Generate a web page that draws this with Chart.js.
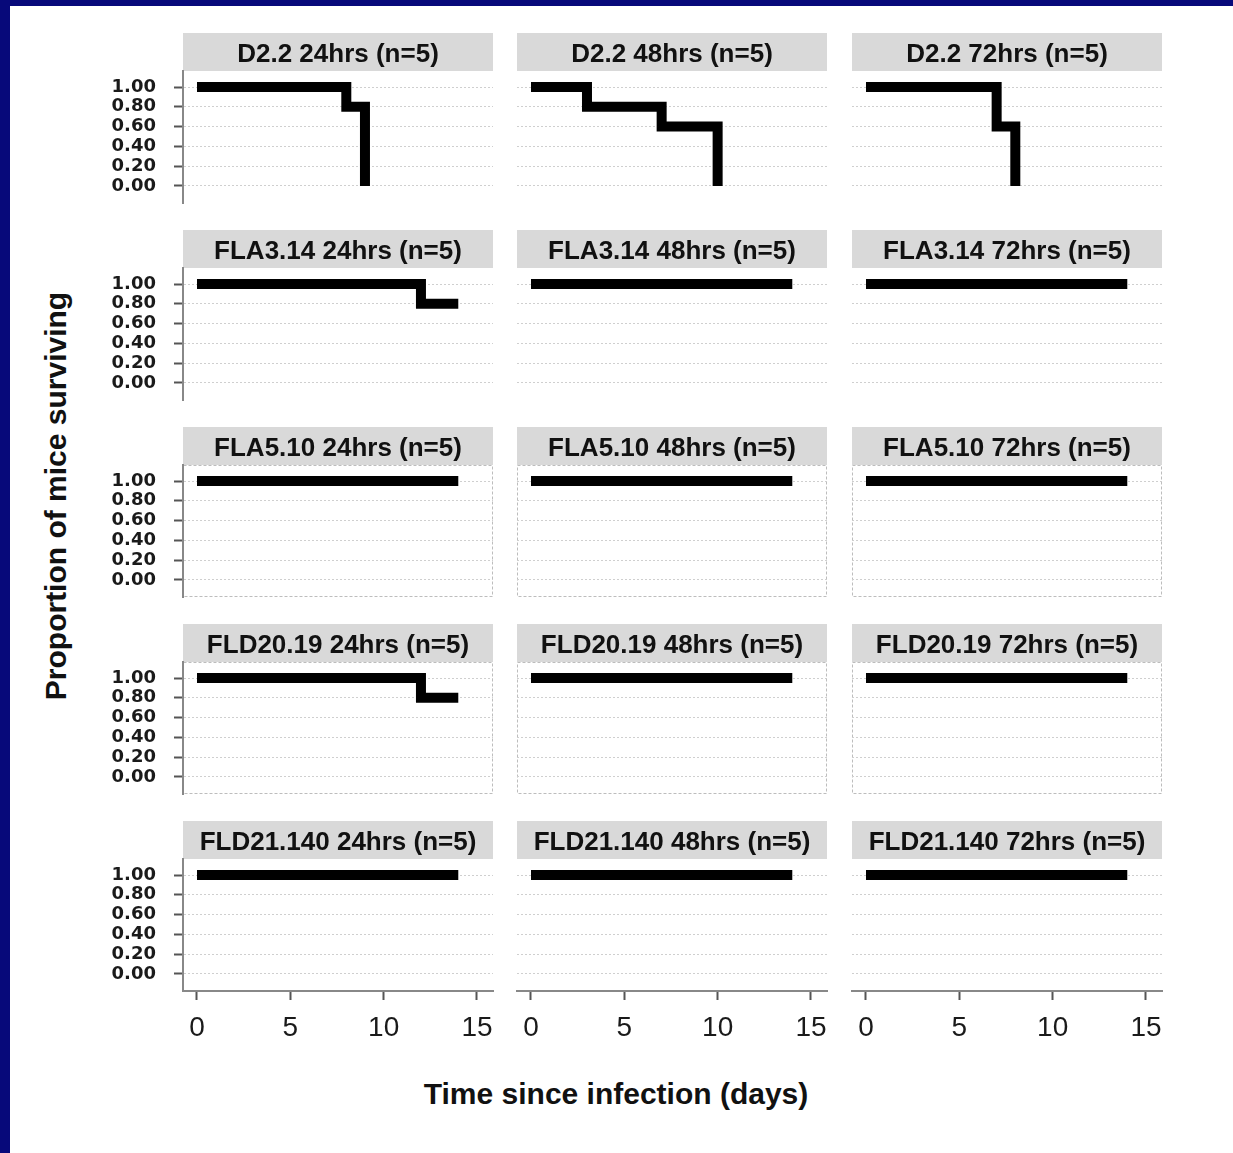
<!DOCTYPE html>
<html>
<head>
<meta charset="utf-8">
<title>Survival by strain and dose</title>
<script src="https://cdn.jsdelivr.net/npm/chart.js@4.4.1/dist/chart.umd.min.js"></script>
<style>
    html, body { margin: 0; padding: 0; }
    body {
        width: 1233px; height: 1153px; background: #fff;
        position: relative; overflow: hidden;
        font-family: 'Liberation Sans', Arial, sans-serif;
    }
    .frame-top { position: absolute; left: 0; top: 0; width: 1233px; height: 6px; background: #07097a; }
    .frame-left { position: absolute; left: 0; top: 0; width: 10px; height: 1153px; background: #07097a; }
    canvas { position: absolute; }
    .xtitle {
        position: absolute; left: 316px; top: 1078px; width: 600px;
        text-align: center; font-size: 30px; line-height: 32px; font-weight: bold; color: #111;
    }
    .ytitle {
        position: absolute; left: -244px; top: 480px; width: 600px; height: 32px;
        text-align: center; font-size: 30px; line-height: 32px; font-weight: bold; color: #111;
        transform: rotate(-90deg); transform-origin: 50% 50%;
    }
</style>
</head>
<body>
<div class="frame-top"></div>
<div class="frame-left"></div>
<div class="ytitle">Proportion of mice surviving</div>
<div class="xtitle">Time since infection (days)</div>

<script>
const strains = ['D2.2', 'FLA3.14', 'FLA5.10', 'FLD20.19', 'FLD21.140'];
const doses = ['24hrs', '48hrs', '72hrs'];
const groupSize = 5;

// event times (days) and proportion surviving after each, one list per dose
const timesD22 = [[0, 8, 9], [0, 3, 7, 10], [0, 7, 8]];
const survD22 = [[1, 0.8, 0], [1, 0.8, 0.6, 0], [1, 0.6, 0]];
const timesFLA314 = [[0, 12, 14], [0, 14], [0, 14]];
const survFLA314 = [[1, 0.8, 0.8], [1, 1], [1, 1]];
const timesFLA510 = [[0, 14], [0, 14], [0, 14]];
const survFLA510 = [[1, 1], [1, 1], [1, 1]];
const timesFLD2019 = [[0, 12, 14], [0, 14], [0, 14]];
const survFLD2019 = [[1, 0.8, 0.8], [1, 1], [1, 1]];
const timesFLD21140 = [[0, 14], [0, 14], [0, 14]];
const survFLD21140 = [[1, 1], [1, 1], [1, 1]];

const yTicks = [0, 0.2, 0.4, 0.6, 0.8, 1.0];
const xTicks = [0, 5, 10, 15];

const allTimes = [timesD22, timesFLA314, timesFLA510, timesFLD2019, timesFLD21140];
const allSurv = [survD22, survFLA314, survFLA510, survFLD2019, survFLD21140];

// panel geometry
const colLeft = [183, 517, 852];
const rowTop = [33, 230, 427, 624, 821];
const plotW = 310, headH = 38, plotH = 132;
// y tick labels need ~30px of room below the plot (half label + padding)
const yAxisW = 93, xAxisH = 62, pad = 20, padBottom = 32;
const xMin = -0.75, xMax = 15.86, yMin = -0.172, yMax = 1.162;

// grey strip behind the title and dotted frame on some rows
Chart.register({
    id: 'panelDeco',
    defaults: { boxed: false },
    beforeDraw(chart, args, opts) {
        const a = chart.chartArea;
        const ctx = chart.ctx;
        ctx.save();
        ctx.fillStyle = '#d9d9d9';
        ctx.fillRect(a.left, a.top - headH, a.right - a.left, headH);
        if (opts.boxed) {
            ctx.strokeStyle = '#bdbdbd';
            ctx.lineWidth = 1;
            ctx.setLineDash([3, 2]);
            ctx.strokeRect(a.left + 0.5, a.top + 0.5, a.right - a.left - 1, a.bottom - a.top - 1);
        }
        ctx.restore();
    }
});

function makePanel(r, c) {
    const bottomRow = r === strains.length - 1;
    const canvas = document.createElement('canvas');
    const left = c === 0 ? colLeft[0] - yAxisW : colLeft[c] - pad;
    const width = (c === 0 ? yAxisW : pad) + plotW + pad;
    const height = headH + plotH + (bottomRow ? xAxisH : padBottom);
    canvas.width = width;
    canvas.height = height;
    canvas.style.left = left + 'px';
    canvas.style.top = rowTop[r] + 'px';
    canvas.style.width = width + 'px';
    canvas.style.height = height + 'px';
    document.body.appendChild(canvas);

    const times = allTimes[r][c];
    const surv = allSurv[r][c];

    new Chart(canvas.getContext('2d'), {
        type: 'line',
        data: {
            datasets: [{
                data: times.map((t, i) => ({ x: t, y: surv[i] })),
                stepped: true,
                borderColor: '#000',
                borderWidth: 10,
                borderCapStyle: 'butt',
                borderJoinStyle: 'miter',
                pointRadius: 0,
                fill: false
            }]
        },
        options: {
            responsive: false,
            animation: false,
            events: [],
            layout: {
                padding: { left: c === 0 ? 0 : pad, right: pad, top: 0, bottom: 0 }
            },
            scales: {
                x: {
                    type: 'linear',
                    min: xMin,
                    max: xMax,
                    afterBuildTicks: s => { s.ticks = xTicks.map(v => ({ value: v })); },
                    // upper rows keep an empty strip instead of an axis
                    afterFit: s => { s.height = bottomRow ? xAxisH : padBottom; },
                    ticks: {
                        display: bottomRow,
                        padding: 11,
                        color: '#1a1a1a',
                        maxRotation: 0,
                        autoSkip: false,
                        font: { family: 'Liberation Sans', size: 28 }
                    },
                    grid: {
                        display: bottomRow,
                        drawOnChartArea: false,
                        drawTicks: true,
                        tickLength: 9,
                        tickColor: '#555',
                        tickWidth: 2
                    },
                    border: { display: bottomRow, color: '#888', width: 2 }
                },
                y: {
                    type: 'linear',
                    min: yMin,
                    max: yMax,
                    afterBuildTicks: s => { s.ticks = yTicks.map(v => ({ value: v })); },
                    afterFit: s => { s.width = c === 0 ? yAxisW : 0; },
                    ticks: {
                        display: c === 0,
                        autoSkip: false,
                        padding: 18,
                        color: '#1a1a1a',
                        font: { family: 'DejaVu Sans', size: 18, weight: 'bold' },
                        callback: v => v.toFixed(2)
                    },
                    grid: {
                        color: '#cfcfcf',
                        lineWidth: 1,
                        drawTicks: c === 0,
                        tickLength: 9,
                        tickColor: '#555',
                        tickWidth: 2
                    },
                    border: { display: c === 0, color: '#888', width: 2, dash: [2, 2] }
                }
            },
            plugins: {
                legend: { display: false },
                tooltip: { enabled: false },
                title: {
                    display: true,
                    text: `${strains[r]} ${doses[c]} (n=${groupSize})`,
                    fullSize: false,
                    color: '#111',
                    font: { family: 'Liberation Sans', size: 26, weight: 'bold', lineHeight: 1 },
                    padding: { top: 9, bottom: 3 }
                },
                panelDeco: { boxed: r === 2 || r === 3 }
            }
        }
    });
}

for (let r = 0; r < strains.length; r++) {
    for (let c = 0; c < doses.length; c++) {
        makePanel(r, c);
    }
}
</script>
</body>
</html>
